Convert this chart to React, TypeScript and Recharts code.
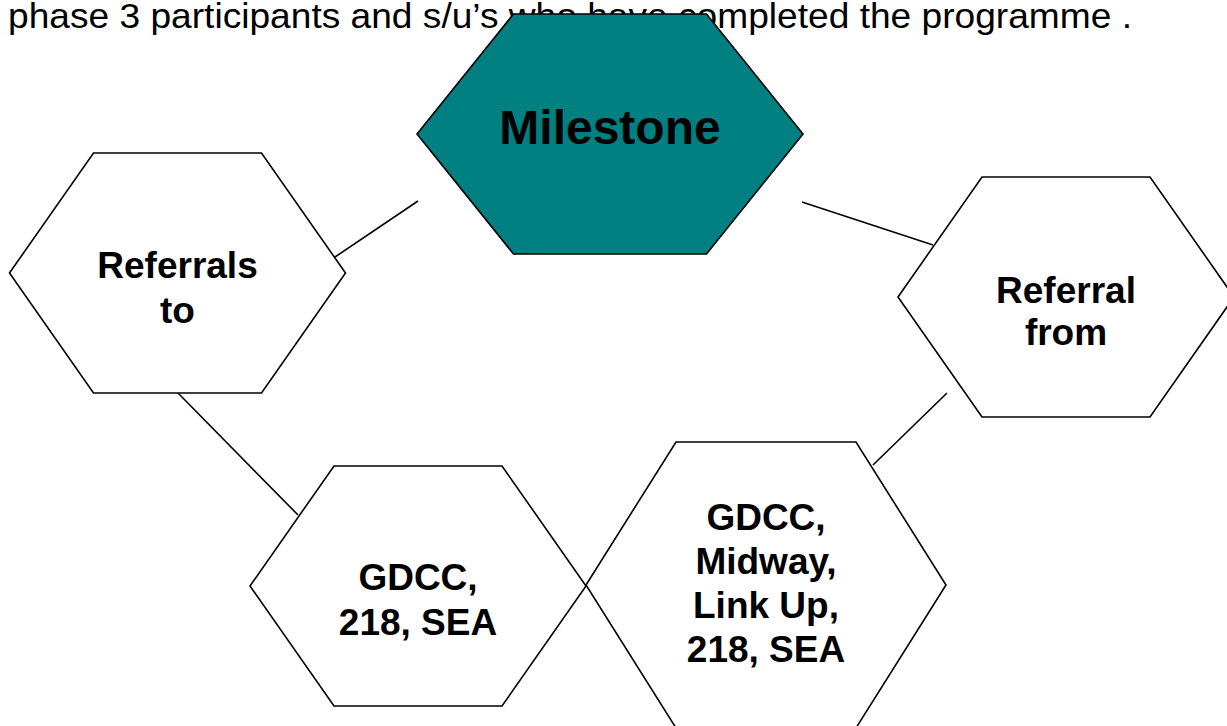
import React from "react";
import { ScatterChart, Scatter, XAxis, YAxis, ReferenceLine } from "recharts";

const CHART_W = 1227;
const CHART_H = 726;
const X_MAX = 1227;
const Y_MAX = 726;

// Title
const titleText = "phase 3 participants and s/u\u2019s who have completed the programme .";
const titleData = [{ x: 8, y: 28, span: 1124 }];

// Hexagon nodes
const hexNames = ["Referrals to", "GDCC 218 SEA", "Midway", "Referral from", "Milestone"];
const hexCenterX = [177.5, 418, 766, 1066, 610];
const hexCenterY = [273, 586, 585, 297, 134];
const hexHalfWidth = [168, 168, 180, 168, 193];
const hexHalfHeight = [120, 120, 143, 120, 120];
const hexLines = [
  ["Referrals", "to"],
  ["GDCC,", "218, SEA"],
  ["GDCC,", "Midway,", "Link Up,", "218, SEA"],
  ["Referral", "from"],
  ["Milestone"],
];
const hexFirstBaseline = [278, 590, 530, 303, 144];
const hexLineGap = [45, 45, 44, 42, 0];
const hexFontSize = [37, 37, 37, 37, 48];
const hexFill = ["#ffffff", "#ffffff", "#ffffff", "#ffffff", "#008080"];

// Connector segments [x1, y1, x2, y2]
const connectorX1 = [335, 802, 178, 947];
const connectorY1 = [257, 202, 393, 393];
const connectorX2 = [418, 933, 298, 873];
const connectorY2 = [201, 245, 515, 465];

const hexData = hexNames.map((name, i) => ({
  name,
  x: hexCenterX[i],
  y: hexCenterY[i],
  hw: hexHalfWidth[i],
  hh: hexHalfHeight[i],
  lines: hexLines[i],
  base: hexFirstBaseline[i],
  gap: hexLineGap[i],
  fs: hexFontSize[i],
  fill: hexFill[i],
}));

const kx = CHART_W / X_MAX;
const ky = CHART_H / Y_MAX;

const HexShape = (props: any) => {
  const { cx, cy, payload } = props;
  if (cx == null || cy == null || !payload) return null;
  const W = payload.hw * kx;
  const w = W / 2;
  const H = payload.hh * ky;
  const pts = [
    [cx - W, cy],
    [cx - w, cy - H],
    [cx + w, cy - H],
    [cx + W, cy],
    [cx + w, cy + H],
    [cx - w, cy + H],
  ]
    .map((p) => p.join(","))
    .join(" ");
  const baseOffset = (payload.base - payload.y) * ky;
  return (
    <g>
      <polygon points={pts} fill={payload.fill} stroke="#000" strokeWidth={1.6} strokeLinejoin="miter" />
      <text
        x={cx}
        y={cy + baseOffset}
        textAnchor="middle"
        fontFamily="'Liberation Sans', Arial, sans-serif"
        fontWeight="bold"
        fontSize={payload.fs}
        fill="#000"
      >
        {payload.lines.map((l: string, j: number) => (
          <tspan key={j} x={cx} dy={j === 0 ? 0 : payload.gap * ky}>
            {l}
          </tspan>
        ))}
      </text>
    </g>
  );
};

const TitleShape = (props: any) => {
  const { cx, cy, payload } = props;
  if (cx == null || cy == null) return null;
  return (
    <text
      x={cx}
      y={cy}
      textAnchor="start"
      fontFamily="'Liberation Sans', Arial, sans-serif"
      fontSize={35}
      fill="#000"
      textLength={payload.span * kx}
      lengthAdjust="spacingAndGlyphs"
    >
      {titleText}
    </text>
  );
};

export default function App() {
  return (
    <div style={{ position: "absolute", left: 0, top: 0, background: "#fff" }}>
      <ScatterChart width={CHART_W} height={CHART_H} margin={{ top: 0, right: 0, bottom: 0, left: 0 }}>
        <XAxis type="number" dataKey="x" domain={[0, X_MAX]} hide allowDataOverflow />
        <YAxis type="number" dataKey="y" domain={[0, Y_MAX]} reversed hide allowDataOverflow />
        {connectorX1.map((x1, i) => (
          <ReferenceLine
            key={i}
            segment={[
              { x: x1, y: connectorY1[i] },
              { x: connectorX2[i], y: connectorY2[i] },
            ]}
            stroke="#000"
            strokeWidth={1.6}
            ifOverflow="visible"
          />
        ))}
        <Scatter data={titleData} shape={TitleShape} isAnimationActive={false} />
        <Scatter data={hexData} shape={HexShape} isAnimationActive={false} />
      </ScatterChart>
    </div>
  );
}
